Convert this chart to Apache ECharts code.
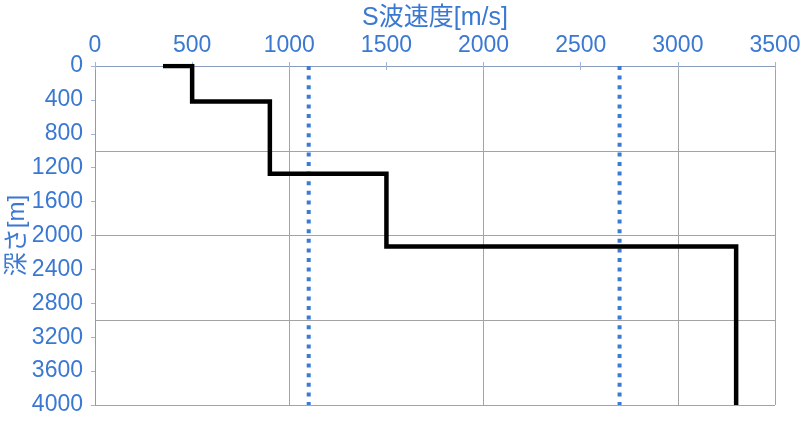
<!DOCTYPE html>
<html>
<head>
<meta charset="utf-8">
<script src="https://cdn.jsdelivr.net/npm/echarts@6/dist/echarts.min.js"></script>
<style>
  html, body { margin: 0; padding: 0; background: #fff; }
  #main { width: 809px; height: 423px; }
</style>
</head>
<body>
<div id="main"></div>
<script>
// step profile: S-wave velocity vs depth
var stepVs    = [350, 500, 500, 900, 900, 1500, 1500, 3300, 3300];
var stepDepth = [0,   0,   420, 420, 1270, 1270, 2130, 2130, 4000];

// reference velocities (dotted verticals)
var refVs = [1100, 2700];
var refDepth = [0, 4000];

var xTicks = [0, 500, 1000, 1500, 2000, 2500, 3000, 3500];
var yTicks = [0, 400, 800, 1200, 1600, 2000, 2400, 2800, 3200, 3600, 4000];

var blue = '#3a78d2';
var axisCol = '#8a9cba';
var gridCol = '#a3a3a3';
var font = 'Liberation Sans, Arial, Noto Sans CJK JP';

function plain(v) { return String(v); }

var stepData = [];
for (var i = 0; i < stepVs.length; i++) {
    stepData.push([stepVs[i], stepDepth[i]]);
}

var series = [{
    type: 'line',
    data: stepData,
    symbol: 'none',
    z: 5,
    lineStyle: { color: '#000', width: 4.5, join: 'miter', cap: 'butt' }
}];
for (var k = 0; k < refVs.length; k++) {
    series.push({
        type: 'line',
        data: [[refVs[k], refDepth[0]], [refVs[k], refDepth[1]]],
        symbol: 'none',
        z: 4,
        lineStyle: { color: '#3b7bd6', width: 4, type: [4, 5.6], cap: 'butt' }
    });
}

var xMin = xTicks[0], xMax = xTicks[xTicks.length - 1];
var yMin = yTicks[0], yMax = yTicks[yTicks.length - 1];

var myChart = echarts.init(document.getElementById('main'));

var option = {
    animation: false,
    grid: { left: 95, right: 34, top: 66, bottom: 18, containLabel: false, outerBoundsMode: 'none' },
    xAxis: [{
        // main top axis with labels
        type: 'value', position: 'top', min: xMin, max: xMax, interval: 500,
        name: 'S波速度[m/s]', nameLocation: 'middle', nameGap: 35, nameMoveOverlap: false,
        nameTextStyle: { color: blue, fontSize: 25, fontFamily: font },
        axisLine: { show: true, lineStyle: { color: axisCol, width: 1 } },
        axisTick: { show: true, length: 4, lineStyle: { color: '#9fb4d6' } },
        axisLabel: { color: blue, fontSize: 23, fontFamily: font, margin: 9, formatter: plain },
        splitLine: { show: false }
    }, {
        // bottom axis, ticks only
        type: 'value', position: 'bottom', min: xMin, max: xMax, interval: 500,
        axisLine: { show: true, lineStyle: { color: axisCol, width: 1 } },
        axisTick: { show: true, length: 4, lineStyle: { color: '#9fb4d6' } },
        axisLabel: { show: false },
        splitLine: { show: false }
    }, {
        // major grid lines every 1000
        type: 'value', position: 'bottom', min: xMin, max: xMax, interval: 1000,
        axisLine: { show: false }, axisTick: { show: false }, axisLabel: { show: false },
        splitLine: { show: true, lineStyle: { color: gridCol, width: 1 } }
    }],
    yAxis: [{
        type: 'value', position: 'left', inverse: true, min: yMin, max: yMax, interval: 400,
        name: '深さ[m]', nameLocation: 'middle', nameGap: 66, nameMoveOverlap: false,
        nameTextStyle: { color: blue, fontSize: 24, fontFamily: font },
        axisLine: { show: true, lineStyle: { color: axisCol, width: 1 } },
        axisTick: { show: true, length: 4, lineStyle: { color: '#9fb4d6' } },
        axisLabel: { color: blue, fontSize: 23, fontFamily: font, margin: 12, formatter: plain },
        splitLine: { show: false }
    }, {
        type: 'value', position: 'left', inverse: true, min: yMin, max: yMax, interval: 1000,
        axisLine: { show: false }, axisTick: { show: false }, axisLabel: { show: false },
        splitLine: { show: true, lineStyle: { color: gridCol, width: 1 } }
    }],
    series: series
};

myChart.setOption(option);
</script>
</body>
</html>
